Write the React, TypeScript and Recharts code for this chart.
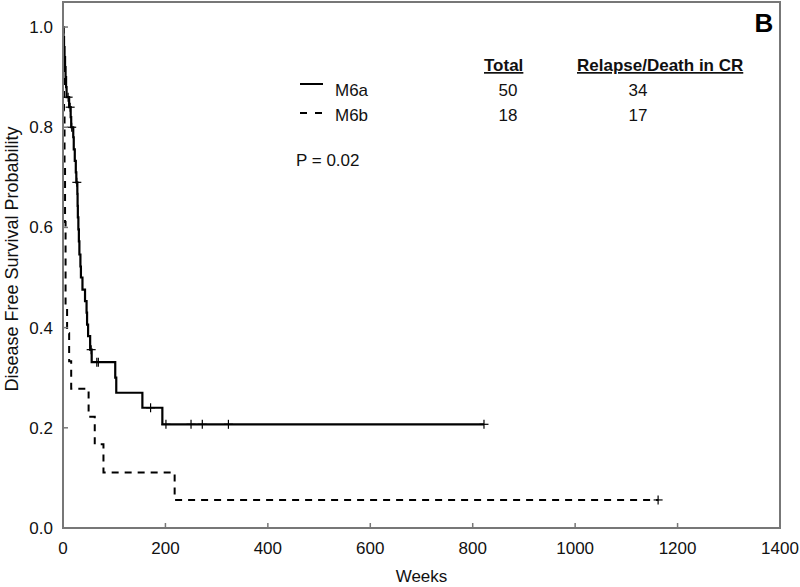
import { ComposedChart, Line, Scatter, XAxis, YAxis, ReferenceArea } from 'recharts';

// Kaplan-Meier step points (weeks, survival)
const m6aWeeks = [0, 1, 2, 3, 4, 5, 6, 7, 12, 15, 16, 20, 21, 23, 25, 26, 28, 28.5, 29, 30, 31, 32, 34, 35, 38, 43, 46, 47, 49, 53, 56, 102, 104, 155, 194, 822];
const m6aSurv = [1.0, 0.98, 0.96, 0.94, 0.92, 0.9, 0.88, 0.86, 0.84, 0.82, 0.8, 0.78, 0.756, 0.733, 0.71, 0.69, 0.667, 0.643, 0.62, 0.596, 0.572, 0.546, 0.522, 0.5, 0.476, 0.453, 0.43, 0.406, 0.383, 0.356, 0.331, 0.3, 0.27, 0.24, 0.207, 0.207];
const m6aCensWeeks = [10, 14, 17, 27, 55, 66, 69, 171, 201, 250, 272, 323, 822];
const m6aCensSurv = [0.86, 0.84, 0.8, 0.69, 0.356, 0.331, 0.331, 0.24, 0.207, 0.207, 0.207, 0.207, 0.207];

const m6bWeeks = [0, 1, 2, 3, 4, 5, 8, 12, 16, 50, 62, 79, 218, 1162];
const m6bSurv = [1.0, 0.944, 0.833, 0.722, 0.611, 0.444, 0.389, 0.333, 0.278, 0.222, 0.167, 0.111, 0.056, 0.056];
const m6bCensWeeks = [1162];
const m6bCensSurv = [0.056];

const xTicks = [0, 200, 400, 600, 800, 1000, 1200, 1400];
const yTicks = [0, 0.2, 0.4, 0.6, 0.8, 1.0];

const toRows = (t: number[], p: number[]) => t.map((v, i) => ({ t: v, p: p[i] }));
const m6a = toRows(m6aWeeks, m6aSurv);
const m6b = toRows(m6bWeeks, m6bSurv);
const m6aCens = toRows(m6aCensWeeks, m6aCensSurv);
const m6bCens = toRows(m6bCensWeeks, m6bCensSurv);

const FONT = "Arial, 'Liberation Sans', sans-serif";
const AXIS = '#777';

function Plus(props: any) {
  const { cx, cy } = props;
  return (
    <g stroke="#000" strokeWidth={1.2}>
      <line x1={cx - 4.5} x2={cx + 4.5} y1={cy} y2={cy} />
      <line x1={cx} x2={cx} y1={cy - 4.5} y2={cy + 4.5} />
    </g>
  );
}

function XTick({ x, y, payload }: any) {
  return (
    <g>
      <line x1={x} x2={x} y1={y - 14} y2={y - 19} stroke={AXIS} strokeWidth={1.5} />
      <text x={x} y={y} dy="0.71em" textAnchor="middle" fontSize={17} fontFamily={FONT} fill="#111">
        {payload.value}
      </text>
    </g>
  );
}

function YTick({ x, y, payload }: any) {
  return (
    <g>
      <line x1={x + 10} x2={x + 15} y1={y} y2={y} stroke={AXIS} strokeWidth={1.5} />
      <text x={x} y={y} dy="0.35em" textAnchor="end" fontSize={17} fontFamily={FONT} fill="#111">
        {Number(payload.value).toFixed(1)}
      </text>
    </g>
  );
}

export default function App() {
  const txt = { fontFamily: FONT, fontSize: 17, fill: '#111' } as const;
  return (
    <div style={{ position: 'absolute', left: 0, top: 0, width: 800, height: 587, background: '#fff' }}>
      <ComposedChart width={800} height={587} margin={{ top: 2, right: 20, bottom: 0, left: 0 }}>
        <XAxis
          dataKey="t"
          type="number"
          domain={[0, 1400]}
          ticks={xTicks}
          height={59}
          tickSize={0}
          tickMargin={14}
          tickLine={false}
          axisLine={{ stroke: AXIS, strokeWidth: 2 }}
          tick={<XTick />}
          label={{
            content: ({ viewBox }: any) => (
              <text x={viewBox.x + viewBox.width / 2} y={582} textAnchor="middle" {...txt}>
                Weeks
              </text>
            ),
          }}
        />
        <YAxis
          type="number"
          domain={[0, 1.05]}
          ticks={yTicks}
          width={63}
          tickSize={0}
          tickMargin={10}
          tickLine={false}
          axisLine={{ stroke: AXIS, strokeWidth: 2 }}
          tick={<YTick />}
          label={{
            content: ({ viewBox }: any) => {
              const cy = viewBox.y + viewBox.height / 2 - 6;
              return (
                <text x={12} y={cy} transform={`rotate(-90, 12, ${cy})`} textAnchor="middle" dominantBaseline="central" {...txt} fontSize={18}>
                  Disease Free Survival Probability
                </text>
              );
            },
          }}
        />
        <ReferenceArea x1={0} x2={1400} y1={0} y2={1.05} fill="none" stroke={AXIS} strokeWidth={2} />
        <Line data={m6b} dataKey="p" type="stepAfter" stroke="#000" strokeWidth={2} strokeDasharray="7 6" dot={false} activeDot={false} isAnimationActive={false} />
        <Line data={m6a} dataKey="p" type="stepAfter" stroke="#000" strokeWidth={2.2} dot={false} activeDot={false} isAnimationActive={false} />
        <Scatter data={m6aCens} dataKey="p" shape={<Plus />} isAnimationActive={false} />
        <Scatter data={m6bCens} dataKey="p" shape={<Plus />} isAnimationActive={false} />
      </ComposedChart>

      <svg width={800} height={587} style={{ position: 'absolute', left: 0, top: 0, pointerEvents: 'none' }}>
        <text x={764} y={32} textAnchor="middle" fontFamily={FONT} fontSize={26} fontWeight="bold" fill="#000">B</text>
        <text x={484} y={71} {...txt} fontWeight="bold" style={{ textDecoration: 'underline' }}>Total</text>
        <text x={577} y={71} {...txt} fontWeight="bold" style={{ textDecoration: 'underline' }}>Relapse/Death in CR</text>
        <line x1={300} x2={323} y1={84} y2={84} stroke="#000" strokeWidth={2} />
        <text x={335} y={96} {...txt}>M6a</text>
        <text x={508} y={96} textAnchor="middle" {...txt}>50</text>
        <text x={638} y={96} textAnchor="middle" {...txt}>34</text>
        <line x1={300} x2={322} y1={113} y2={113} stroke="#000" strokeWidth={2} strokeDasharray="7 8" />
        <text x={335} y={121} {...txt}>M6b</text>
        <text x={508} y={121} textAnchor="middle" {...txt}>18</text>
        <text x={638} y={121} textAnchor="middle" {...txt}>17</text>
        <text x={296} y={166} {...txt}>P = 0.02</text>
      </svg>
    </div>
  );
}
